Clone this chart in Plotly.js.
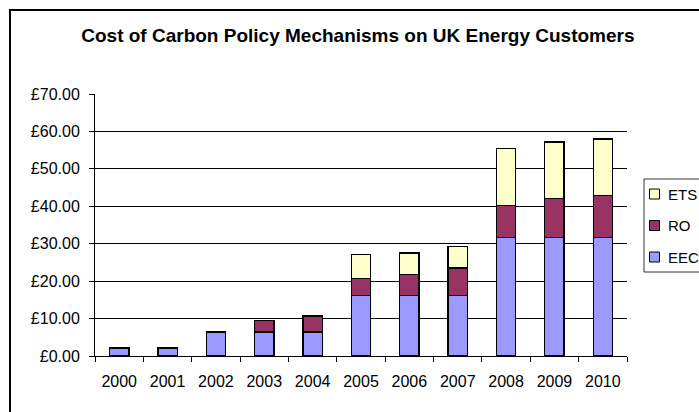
<!DOCTYPE html>
<html>
<head>
<meta charset="utf-8">
<script src="https://cdn.plot.ly/plotly-3.0.1.min.js"></script>
<style>
  html, body { margin: 0; padding: 0; background: #ffffff; overflow: hidden; }
  #wrap { position: relative; width: 699px; height: 412px; overflow: hidden; }
  #chart { width: 699px; height: 412px; }
  #frame {
    position: absolute; left: 9px; top: 9px; width: 720px; height: 440px;
    border: 2px solid #000; pointer-events: none; box-sizing: border-box;
  }
</style>
</head>
<body>
<div id="wrap">
  <div id="chart"></div>
  <div id="frame"></div>
</div>
<script>
// Years on the category axis
const years = ['2000', '2001', '2002', '2003', '2004', '2005', '2006', '2007', '2008', '2009', '2010'];

// Cost per customer (£) by mechanism, stacked
const eec = [2.1, 2.1, 6.4, 6.4, 6.4, 16.2, 16.2, 16.2, 31.7, 31.7, 31.7];
const ro  = [0, 0, 0, 3.0, 4.3, 4.6, 5.6, 7.3, 8.5, 10.3, 11.1];
const ets = [0, 0, 0, 0, 0, 6.3, 5.7, 5.7, 15.2, 15.2, 15.2];

const seriesNames = ['EEC', 'RO', 'ETS'];
const seriesColors = ['#9999FF', '#993366', '#FFFFCC'];
const seriesValues = [eec, ro, ets];

const font = 'Liberation Sans, Arial, sans-serif';

// Plot-area geometry, used to place the key box beside the plot
const W = 699, H = 412;
const M = { l: 95, r: 72, t: 94, b: 56 };
const plotW = W - M.l - M.r, plotH = H - M.t - M.b;
const px = x => (x - M.l) / plotW;          // page x -> paper x
const py = y => (H - M.b - y) / plotH;      // page y -> paper y

const traces = seriesValues.map((vals, i) => ({
  type: 'bar',
  name: seriesNames[i],
  x: years,
  y: vals,
  marker: { color: seriesColors[i], line: { color: '#000000', width: 1.3 } },
  hoverinfo: 'x+y+name'
}));

// Key: boxed list, top series first
const shapes = [{
  type: 'rect', xref: 'paper', yref: 'paper',
  x0: px(644), x1: px(730), y0: py(179), y1: py(272),
  line: { color: '#333333', width: 1 }, fillcolor: '#ffffff', layer: 'above'
}];
const annotations = [];
const keyOrder = [2, 1, 0];
keyOrder.forEach((s, k) => {
  const cy = 194 + k * 31.5;
  shapes.push({
    type: 'rect', xref: 'paper', yref: 'paper',
    x0: px(649.5), x1: px(659.5), y0: py(cy - 5), y1: py(cy + 5),
    line: { color: '#000000', width: 1 }, fillcolor: seriesColors[s], layer: 'above'
  });
  annotations.push({
    xref: 'paper', yref: 'paper', x: px(666), y: py(cy),
    xanchor: 'left', yanchor: 'middle', showarrow: false,
    text: seriesNames[s],
    font: { family: font, size: 15, color: '#000000' }
  });
});

const layout = {
  width: W,
  height: H,
  barmode: 'stack',
  bargap: 0.6,
  paper_bgcolor: '#ffffff',
  plot_bgcolor: '#ffffff',
  margin: { l: M.l, r: M.r, t: M.t, b: M.b, autoexpand: false },
  font: { family: font, color: '#000000', size: 16 },
  showlegend: false,
  title: {
    text: '<b>Cost of Carbon Policy Mechanisms on UK Energy Customers</b>',
    font: { family: font, size: 19, color: '#000000' },
    xref: 'container', x: 0.512, xanchor: 'center',
    yref: 'container', y: 0.915, yanchor: 'middle'
  },
  xaxis: {
    type: 'category',
    showline: true, linecolor: '#000000', linewidth: 1,
    ticks: 'outside', tickson: 'boundaries', ticklen: 5, tickcolor: '#000000', tickwidth: 1,
    ticklabelstandoff: 11,
    showgrid: false, zeroline: false,
    tickfont: { family: font, size: 16, color: '#000000' }
  },
  yaxis: {
    range: [0, 70], dtick: 10,
    tickprefix: '£', tickformat: '.2f',
    showline: true, linecolor: '#000000', linewidth: 1,
    ticks: 'outside', ticklen: 5, tickcolor: '#000000', tickwidth: 1,
    ticklabelstandoff: 6,
    showgrid: true, gridcolor: '#000000', gridwidth: 1,
    zeroline: false,
    tickfont: { family: font, size: 16, color: '#000000' }
  },
  shapes: shapes,
  annotations: annotations
};

Plotly.newPlot('chart', traces, layout, { displayModeBar: false, staticPlot: true });
</script>
</body>
</html>
